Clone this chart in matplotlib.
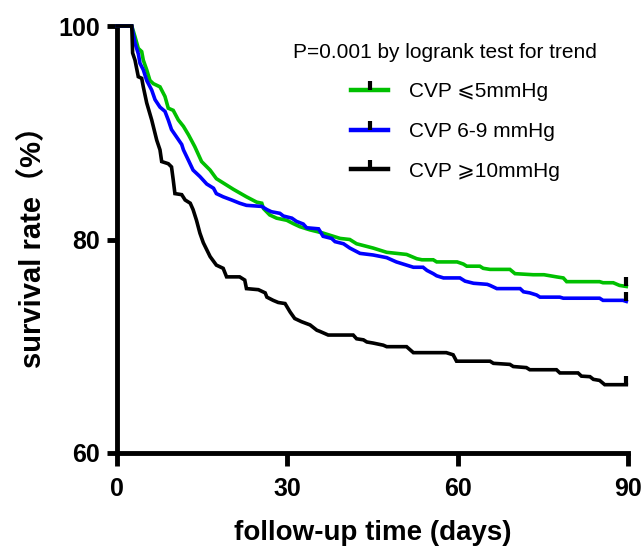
import matplotlib
matplotlib.use("Agg")
import matplotlib.pyplot as plt
from matplotlib.lines import Line2D

# Survival curves (day, survival %)
low_days = [0, 2.6, 3.17, 3.75, 4.35, 4.63, 5.23, 5.8, 6.4, 7.57, 8.45, 9.03, 9.9, 10.8,
            11.7, 12.6, 13.7, 14.9, 16.4, 17.5, 18.7, 20.5, 22.8, 24.6, 25.5, 25.8, 26.9,
            28.1, 29.9, 31.0, 32.2, 34.0, 36.3, 38.1, 39.3, 41.0, 42.2, 45.1, 47.5, 51.0,
            52.8, 53.7, 55.7, 56.3, 59.9, 61.0, 61.6, 63.9, 64.5, 65.7, 69.2, 70.1, 73.3,
            75.2, 76.3, 77.4, 78.6, 79.2, 85.0, 85.6, 87.4, 88.5, 89.7]
low_surv = [100, 100, 99.0, 97.9, 97.6, 96.8, 95.9, 94.9, 94.6, 94.3, 93.4, 92.3, 92.1, 91.2,
            90.6, 89.8, 88.7, 87.3, 86.5, 85.7, 85.3, 84.7, 84.0, 83.5, 83.4, 82.9, 82.3,
            82.0, 81.8, 81.5, 81.2, 80.9, 80.6, 80.3, 80.1, 80.0, 79.6, 79.2, 78.8, 78.6,
            78.2, 78.1, 78.1, 77.9, 77.9, 77.7, 77.5, 77.5, 77.3, 77.2, 77.2, 76.8, 76.7,
            76.7, 76.6, 76.5, 76.4, 76.05, 76.05, 75.95, 75.95, 75.7, 75.6]

mid_days = [0, 2.6, 3.17, 3.75, 4.05, 4.63, 5.23, 6.11, 6.7, 7.57, 8.45, 9.03, 9.6, 10.5,
            11.4, 11.7, 12.6, 13.4, 14.6, 15.8, 17.0, 17.5, 18.7, 20.2, 21.6, 22.8, 25.5,
            26.4, 27.2, 28.7, 29.3, 30.8, 31.6, 32.8, 33.4, 35.5, 36.3, 37.8, 38.4, 39.9,
            41.0, 42.8, 45.1, 47.5, 49.2, 51.0, 52.2, 53.9, 54.6, 55.7, 56.3, 57.5, 60.4,
            61.3, 62.8, 65.2, 65.7, 66.9, 71.0, 71.6, 72.7, 73.9, 74.5, 78.0, 78.6, 85.0,
            85.6, 89.1, 89.7]
mid_surv = [100, 100, 98.4, 97.4, 96.5, 95.9, 94.9, 94.0, 93.1, 92.4, 92.0, 91.2, 90.3, 89.6,
            88.9, 88.4, 87.4, 86.5, 85.9, 85.2, 84.8, 84.3, 84.0, 83.7, 83.4, 83.2, 83.1,
            82.8, 82.6, 82.45, 82.2, 82.0, 81.7, 81.45, 81.1, 81.0, 80.3, 80.1, 79.8, 79.6,
            79.2, 78.7, 78.55, 78.3, 77.9, 77.6, 77.4, 77.4, 77.1, 76.8, 76.6, 76.4, 76.4,
            76.1, 75.9, 75.8, 75.7, 75.4, 75.4, 75.1, 75.0, 74.8, 74.6, 74.6, 74.5, 74.5,
            74.3, 74.3, 74.2]

high_days = [0, 2.6, 2.75, 3.17, 3.75, 4.35, 4.63, 5.23, 6.11, 7.0, 7.57, 7.87, 9.03, 9.6,
             9.9, 10.2, 11.4, 12.0, 12.9, 13.4, 14.0, 14.6, 15.2, 16.4, 17.5, 18.7, 19.3,
             21.6, 22.5, 22.8, 24.9, 26.1, 26.4, 27.5, 28.4, 29.6, 30.5, 31.3, 32.5, 34.0,
             35.2, 35.7, 37.2, 41.6, 42.2, 43.4, 44.0, 45.1, 46.9, 47.5, 51.0, 52.2, 58.0,
             59.2, 59.8, 65.7, 66.3, 69.2, 69.8, 72.1, 72.7, 77.4, 78.0, 81.2, 81.8, 83.3,
             83.9, 85.0, 85.9, 89.7]
high_surv = [100, 100, 97.47, 96.8, 95.25, 95.1, 94.3, 92.8, 91.2, 89.3, 88.4, 87.3, 87.1, 86.8,
             85.6, 84.3, 84.2, 83.7, 83.4, 82.8, 81.8, 80.6, 79.7, 78.4, 77.6, 77.3, 76.5,
             76.5, 76.2, 75.4, 75.3, 75.0, 74.6, 74.3, 74.1, 74.0, 73.2, 72.6, 72.3, 72.0,
             71.5, 71.4, 71.05, 71.05, 70.7, 70.6, 70.4, 70.3, 70.1, 69.96, 69.96, 69.4, 69.4,
             69.2, 68.6, 68.6, 68.4, 68.3, 68.1, 68.0, 67.8, 67.8, 67.5, 67.5, 67.2, 67.15,
             66.9, 66.8, 66.4, 66.4]

groups = ["CVP \u2a7d5mmHg", "CVP 6-9 mmHg", "CVP \u2a7e10mmHg"]
colors = ["#00C000", "#0000FF", "#000000"]
x_ticks = [0, 30, 60, 90]
y_ticks = [60, 80, 100]

plt.rcParams["font.family"] = ["Liberation Sans", "DejaVu Sans", "Noto Sans CJK SC"]

# censor mark: short vertical stroke rising from the line
censor = [(0, 0), (0, 1)]

fig = plt.figure(figsize=(6.44, 5.48), dpi=100)
ax = fig.add_axes([117 / 644, 1 - 453 / 548, 511 / 644, 427 / 548])

series = [(low_days, low_surv), (mid_days, mid_surv), (high_days, high_surv)]
for (days, surv), color in zip(series, colors):
    ax.plot(days, surv, color=color, lw=2.6, clip_on=False, zorder=3,
            solid_joinstyle="miter")
    ax.plot([days[-1]], [surv[-1]], marker=censor, color="black", ms=13, mew=3,
            linestyle="none", clip_on=False, zorder=4)

ax.set_xlim(0, 90)
ax.set_ylim(60, 100)
ax.set_xticks(x_ticks)
ax.set_yticks(y_ticks)
for side in ["top", "right"]:
    ax.spines[side].set_visible(False)
for side in ["left", "bottom"]:
    ax.spines[side].set_linewidth(3.5)
ax.tick_params(axis="x", length=9, width=3.5, pad=8, labelsize=18)
ax.tick_params(axis="y", length=7, width=3.5, pad=5, labelsize=18)
for lab in ax.get_xticklabels() + ax.get_yticklabels():
    lab.set_fontweight("bold")

ax.set_xlabel("follow-up time (days)", fontsize=20, fontweight="bold", labelpad=14)
ax.set_ylabel("survival rate\uff08%\uff09", fontsize=21, fontweight="bold", labelpad=8,
              family=["Liberation Sans", "Noto Sans CJK SC"])

handles = [Line2D([], [], color=c, lw=3.2, marker=censor, ms=13, mew=3,
                  markeredgecolor="black") for c in colors]
ax.legend(handles, groups, loc="upper left", bbox_to_anchor=(351 / 644, 1 - 82 / 548),
          bbox_transform=fig.transFigure, frameon=False, fontsize=15,
          handlelength=1.8, handletextpad=1.0, labelspacing=1.0, borderpad=0,
          borderaxespad=0)
fig.text(445 / 644, 1 - 52 / 548, "P=0.001 by logrank test for trend", fontsize=15,
         ha="center", va="center")

fig.savefig("out.png", dpi=100)
